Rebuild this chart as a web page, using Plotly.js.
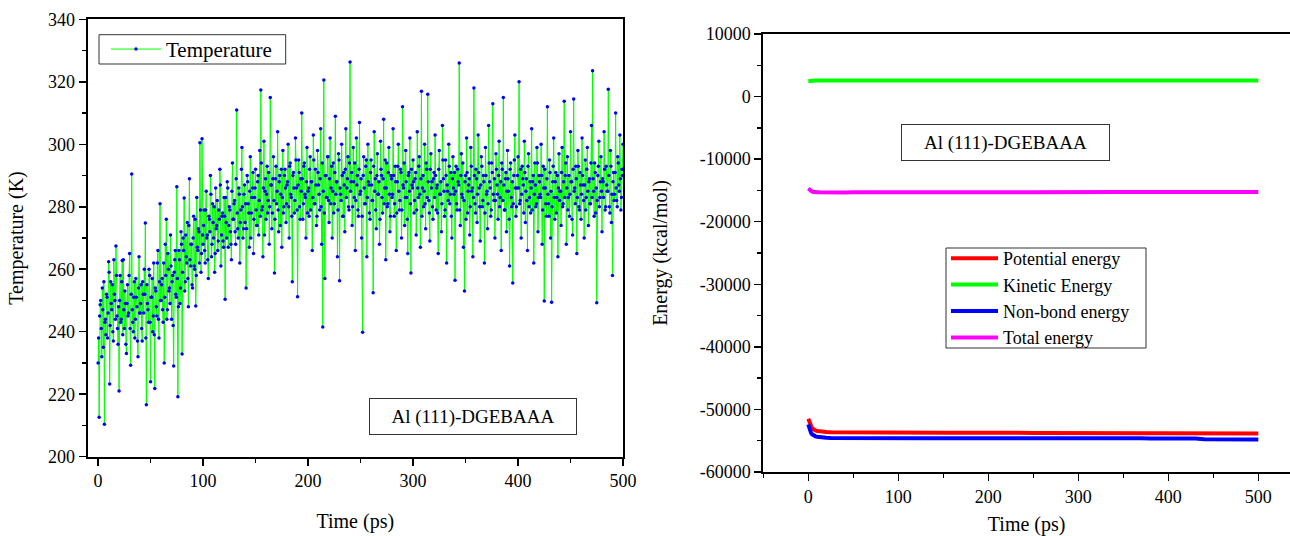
<!DOCTYPE html>
<html><head><meta charset="utf-8">
<script src="https://cdn.plot.ly/plotly-3.0.1.min.js"></script>
<style>html,body{margin:0;padding:0;background:#fff}#chart{width:1290px;height:536px}</style>
</head><body><div id="chart"></div>
<script>
// ---------- Left chart: temperature (K), frames every 0.5 ps ----------
// values on whole picoseconds (t = 0, 1, ..., 500)
const temperatureWhole = [
230,212.6,248.6,241,254,235,210.4,244,252,238,262.4,223.3,256,247,240,263,250,267.4,245,236,
221,258,244,262.8,263,241,249,233,255,246,265,229.3,290.5,243,251,238,257,248,232,264,
246,255,237,252,260,274.8,216.6,249,243,258,224,251,240,262,221.8,253,245,266,238,281,
250,257,243,230,268,276,247,260,254,271,244,258,229,263,252,286.4,219.2,266,249,272,
232.9,270,282.8,256,264,275,248,289,261,268,254,277,260,248.2,283,266,272,300.5,259,301.8,
268,279,262,285,271,257,276,290,264,281,270,259,286,274,266,279,292,261,277,269,
283,250.4,275,288,267,280,272,263,294,276,282,268,311,273,286,262,279,299,270,284,
275,254,290,281,267,296,278,286,265,283,292,274,288,271,298,317.4,279,264,301,285,
276,293,282,268,315,287,278,296,258.8,289,281,304,272,290,284,267,298,280,292,275,
287,300,270,294,283,256,291,278,302,286,251.2,295,280,289,310,276,293,284,270,299,
285,277,296,288,266,303,281,292,274,298,287,279,305,268,241.5,320.6,257,290,283,296,
275,302,286,270,294,281,309,288,264,297,256.3,284,300,277,291,272,305,286,296,279,
326.3,288,274,299,283,266,302,290,277,307,285,270,239.8,296,281,293,264,300,287,276,
295,282,252.5,304,289,273,297,284,268,301,290,278,308,286,263,294,281,299,272,290,
283,305,277,293,266,288,300,279,292,270,312,286,274,298,283,265,291,302,258.8,287,
295,278,289,271,304,283,296,267,317,286,280,300,273,292,316,282,269,297,288,276,
291,303,279,287,265,298,284,272,306,289,277,295,262,285,300,281,291,270,296,284,
256.5,293,279,288,326,274,297,283,267,253,290,302,278,287,271,299,285,264,318,281,
292,275,303,286,269,296,280,290,262,299,284,273,306,288,277,294,313,282,270,297,
287,276,301,283,266,292,315,279,289,272,298,285,261,294,280,255.6,290,303,277,286,
296,320,282,270,293,287,301,275,289,266,297,283,278,305,288,262,294,280,299,272,
290,284,300,268,293,249.8,286,277,312,281,295,270,249.4,288,302,276,291,283,264,297,
285,274,299,281,313.8,290,268,296,283,277,304,288,271,314.5,286,293,265,298,280,291,
276,302,287,270,295,283,299,274,289,281,306,323.5,285,294,278,249.3,290,301,283,296,
272,288,304,279,293,285,317.6,280,298,275,258,291,284,310,282,296,287,303,279,292,300
];
// values on half picoseconds (t = 0.5, 1.5, ..., 499.5)
const temperatureHalf = [
238,245,250,232,247,256,243,239,251,246,259,242,249,255,237,252,244,258,241,248,
250,243,256,239,247,253,236,249,245,258,241,252,247,240,256,244,251,237,254,246,
249,241,256,246,252,238,255,247,260,243,251,257,245,239,254,248,262,244,256,250,
255,247,262,251,258,244,265,253,249,261,256,242,259,266,251,257,248,263,254,268,
259,266,253,271,262,257,274,263,268,255,270,261,276,258,267,273,262,279,265,271,
274,266,279,270,263,277,272,284,268,275,280,265,273,282,269,276,287,271,278,267,
277,283,270,286,274,279,268,285,276,281,272,289,278,270,284,275,292,280,273,287,
281,273,288,278,285,270,283,291,276,286,279,274,290,282,277,294,280,286,271,289,
284,278,291,280,287,273,289,282,276,293,285,279,288,274,292,283,278,290,286,281,
288,280,293,284,277,290,286,282,295,279,287,291,276,285,289,281,294,283,288,278,
286,292,279,288,283,295,281,287,277,291,284,289,280,294,285,278,290,283,296,282,
289,281,293,285,278,291,284,288,279,295,286,282,290,277,287,292,283,289,280,294,
285,291,280,288,294,282,287,279,292,284,289,277,290,286,281,295,283,288,278,291,
287,282,293,285,279,290,284,288,276,292,283,289,281,295,286,280,291,284,277,289,
284,290,281,288,278,293,285,282,291,279,287,294,283,288,276,290,285,281,292,286,
288,282,291,279,286,293,284,289,277,290,285,281,294,283,288,278,292,286,280,289,
283,290,286,278,292,284,288,281,295,285,279,290,287,282,293,284,277,289,286,291,
285,281,292,287,279,290,284,294,282,288,276,291,285,289,280,293,286,283,290,278,
289,284,291,280,287,293,282,288,278,290,285,281,294,286,279,291,284,289,282,292,
284,290,280,288,294,282,287,279,291,285,289,276,292,283,288,281,295,286,280,290,
286,281,292,284,289,278,291,285,282,293,280,288,286,279,290,284,287,281,294,283,
288,283,290,279,286,292,281,289,284,277,291,285,280,293,283,288,278,290,286,282,
285,291,280,288,283,294,286,279,290,284,288,276,292,285,281,289,283,293,279,287,
284,290,282,287,279,292,285,288,281,294,283,289,277,291,286,282,293,280,288,285,
289,283,292,280,287,285,290,278,293,284,288,282,291,286,280,294,285,289,283,290
];
const tempTime = [], temperature = [];
temperatureWhole.forEach((v, i) => {
  tempTime.push(i); temperature.push(v);
  if (i < temperatureHalf.length) { tempTime.push(i + 0.5); temperature.push(temperatureHalf[i]); }
});
const leftYTicks = [200,220,240,260,280,300,320,340];

// ---------- Right chart: energies (kcal/mol) ----------
const energyTime = [0,1,2,3,4,5,6,7,8,10,12,14,16,18,20,25,30,35,40,
50,60,70,80,90,100,110,120,130,140,150,160,170,180,190,200,210,220,230,240,250,
260,270,280,290,300,310,320,330,340,350,360,370,380,390,400,410,420,430,440,450,
460,470,480,490,500];
const potentialEnergy = [-51500,-51950,-52350,-52700,-52950,-53100,-53220,-53300,-53360,-53440,-53490,-53530,-53560,-53580,-53600,-53630,-53640,-53660,-53670,
-53680,-53670,-53690,-53680,-53700,-53690,-53700,-53720,-53700,-53710,-53730,-53720,-53710,-53730,-53740,-53730,-53750,-53740,-53750,-53760,-53750,
-53770,-53760,-53770,-53780,-53770,-53790,-53780,-53790,-53800,-53790,-53810,-53800,-53810,-53820,-53810,-53830,-53820,-53830,-53840,-53830,
-53850,-53840,-53850,-53860,-53860];
const kineticEnergy = [2450,2480,2500,2520,2530,2540,2550,2550,2560,2560,2550,2570,2560,2560,2570,2560,2570,2560,2570,
2560,2570,2550,2560,2580,2560,2550,2570,2560,2560,2570,2550,2560,2580,2560,2570,2550,2560,2570,2560,2550,
2570,2560,2580,2560,2550,2570,2560,2560,2570,2560,2550,2570,2560,2580,2560,2570,2550,2560,2570,2560,
2580,2560,2550,2570,2560];
const nonBondEnergy = [-52400,-53000,-53450,-53750,-53950,-54080,-54180,-54250,-54300,-54370,-54420,-54460,-54490,-54510,-54530,-54550,-54560,-54570,-54580,
-54590,-54600,-54580,-54610,-54590,-54600,-54620,-54590,-54600,-54610,-54590,-54600,-54610,-54590,-54600,-54620,-54600,-54590,-54610,-54600,-54590,
-54610,-54600,-54620,-54600,-54610,-54590,-54600,-54620,-54610,-54600,-54620,-54610,-54630,-54620,-54640,-54630,-54650,-54660,-54760,-54790,
-54770,-54800,-54780,-54790,-54800];
const totalEnergy = [-14700,-14850,-14980,-15080,-15150,-15200,-15240,-15260,-15280,-15300,-15310,-15320,-15320,-15330,-15330,-15320,-15330,-15310,-15320,
-15310,-15300,-15290,-15310,-15300,-15280,-15300,-15290,-15310,-15300,-15290,-15280,-15300,-15290,-15270,-15290,-15280,-15300,-15270,-15280,
-15290,-15270,-15280,-15260,-15280,-15270,-15260,-15280,-15270,-15250,-15270,-15260,-15280,-15260,-15250,-15270,-15260,-15250,-15260,-15240,
-15260,-15250,-15240,-15260,-15250,-15240];
const rightYTicks = [-60000,-50000,-40000,-30000,-20000,-10000,0,10000];
const rightYTickText = ['-60000','-50000','-40000','-30000','-20000','-10000','0','10000'];

const FONT = '"Liberation Serif", "Times New Roman", serif';
const W = 1290, H = 536;
const px = v => v / W, py = v => 1 - v / H;

const traces = [
  {x: tempTime, y: temperature, name: 'Temperature', type: 'scatter', mode: 'lines+markers',
   xaxis: 'x', yaxis: 'y', legend: 'legend',
   line: {color: '#00ff00', width: 1}, marker: {color: '#0000ff', size: 3.5, symbol: 'circle'}},
  {x: energyTime, y: potentialEnergy, name: 'Potential energy', type: 'scatter', mode: 'lines',
   xaxis: 'x2', yaxis: 'y2', legend: 'legend2', line: {color: '#ff0000', width: 4}},
  {x: energyTime, y: kineticEnergy, name: 'Kinetic Energy', type: 'scatter', mode: 'lines',
   xaxis: 'x2', yaxis: 'y2', legend: 'legend2', line: {color: '#00ff00', width: 4}},
  {x: energyTime, y: nonBondEnergy, name: 'Non-bond energy', type: 'scatter', mode: 'lines',
   xaxis: 'x2', yaxis: 'y2', legend: 'legend2', line: {color: '#0000ff', width: 4}},
  {x: energyTime, y: totalEnergy, name: 'Total energy', type: 'scatter', mode: 'lines',
   xaxis: 'x2', yaxis: 'y2', legend: 'legend2', line: {color: '#ff00ff', width: 4}}
];

const axisBase = {
  showline: true, linecolor: 'black', linewidth: 2, showgrid: false, zeroline: false,
  ticks: 'outside', ticklen: 7, tickwidth: 1.5, tickcolor: 'black',
  tickfont: {family: FONT, size: 18, color: 'black'}
};
const minorTicks = d => ({dtick: d, ticks: 'outside', ticklen: 4, tickwidth: 1.5, tickcolor: 'black', showgrid: false});
const boxShape = (x0, y0, x1, y1) => ({type: 'rect', xref: 'paper', yref: 'paper', layer: 'above',
  x0: px(x0), x1: px(x1), y0: py(y1), y1: py(y0), line: {color: '#333', width: 1}, fillcolor: 'rgba(0,0,0,0)'});

const layout = {
  width: W, height: H, margin: {l: 0, r: 0, t: 0, b: 0},
  paper_bgcolor: 'white', plot_bgcolor: 'white',
  font: {family: FONT, color: 'black', size: 18},
  showlegend: true,
  xaxis: Object.assign({}, axisBase, {
    domain: [px(87.6), px(623)], range: [-10, 500], anchor: 'y', mirror: true,
    tick0: 0, dtick: 100, minor: minorTicks(50),
    title: {text: 'Time (ps)', font: {family: FONT, size: 20}, standoff: 24}
  }),
  yaxis: Object.assign({}, axisBase, {
    domain: [py(456.7), py(19.3)], range: [200, 340], anchor: 'x', mirror: true,
    tickvals: leftYTicks, minor: minorTicks(10),
    title: {text: 'Temperature (K)', font: {family: FONT, size: 20}, standoff: 19}
  }),
  xaxis2: Object.assign({}, axisBase, {
    domain: [px(763.3), 1], range: [-50, (W - 763.3) / 0.9 - 50], anchor: 'y2', mirror: true,
    tick0: 0, dtick: 100, minor: minorTicks(50),
    title: {text: 'Time (ps)', font: {family: FONT, size: 20}, standoff: 17}
  }),
  yaxis2: Object.assign({}, axisBase, {
    domain: [py(472), py(34)], range: [-60000, 10000], anchor: 'x2', mirror: false,
    tickvals: rightYTicks, ticktext: rightYTickText, minor: minorTicks(5000),
    title: {text: 'Energy (kcal/mol)', font: {family: FONT, size: 20}, standoff: 27}
  }),
  legend: {
    x: px(106), y: py(49.4), xanchor: 'left', yanchor: 'middle',
    bgcolor: 'rgba(0,0,0,0)', borderwidth: 0,
    font: {family: FONT, size: 21, color: 'black'}, itemwidth: 50
  },
  legend2: {
    x: px(946), y: py(298), xanchor: 'left', yanchor: 'middle',
    bgcolor: 'rgba(0,0,0,0)', borderwidth: 0,
    font: {family: FONT, size: 18, color: 'black'}, itemwidth: 47, tracegroupgap: 0
  },
  shapes: [
    boxShape(99, 34.7, 285.7, 64),
    boxShape(946, 248, 1146, 348)
  ],
  annotations: [
    {text: 'Al (111)-DGEBAAA', xref: 'paper', yref: 'paper', x: px(472.6), y: py(416.5),
     xanchor: 'center', yanchor: 'middle', showarrow: false,
     font: {family: FONT, size: 19, color: 'black'},
     bordercolor: '#333', borderwidth: 1, borderpad: 3, bgcolor: 'white', width: 200, height: 29},
    {text: 'Al (111)-DGEBAAA', xref: 'paper', yref: 'paper', x: px(1005.5), y: py(142),
     xanchor: 'center', yanchor: 'middle', showarrow: false,
     font: {family: FONT, size: 19, color: 'black'},
     bordercolor: '#333', borderwidth: 1, borderpad: 3, bgcolor: 'white', width: 201, height: 29}
  ]
};

Plotly.newPlot('chart', traces, layout, {displayModeBar: false, staticPlot: true});
</script>
</body></html>
